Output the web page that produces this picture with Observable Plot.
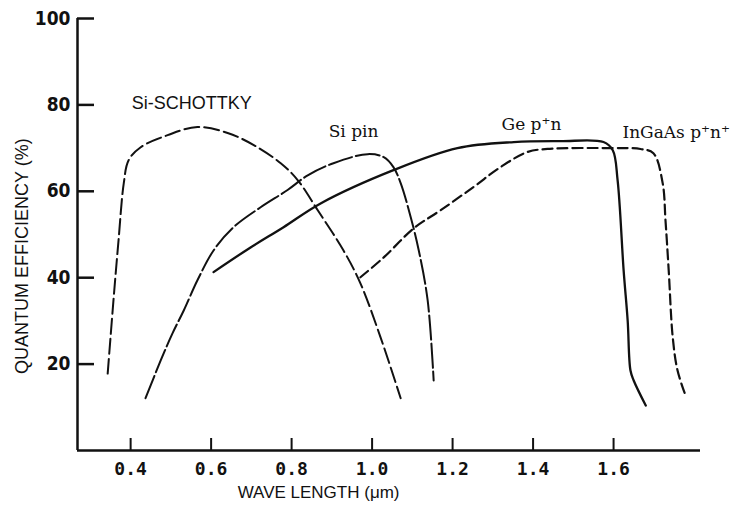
<!DOCTYPE html>
<html>
<head>
<meta charset="utf-8">
<script src="https://cdn.jsdelivr.net/npm/d3@7"></script>
<script src="https://cdn.jsdelivr.net/npm/@observablehq/plot@0.6"></script>
<style>
  html, body { margin: 0; padding: 0; background: #fff; }
  #chart { width: 745px; height: 506px; }
</style>
</head>
<body>
<div id="chart"></div>
<script>
// ---- data ----
const xTicks = [0.4, 0.6, 0.8, 1.0, 1.2, 1.4, 1.6];
const yTicks = [20, 40, 60, 80, 100];

const siSchottkyX = [0.343, 0.358, 0.370, 0.383, 0.395, 0.425, 0.492, 0.566, 0.641, 0.706, 0.773, 0.815, 0.865, 0.929, 0.971, 1.021, 1.071];
const siSchottkyY = [17.8, 35.5, 48.7, 61.9, 67.2, 70.2, 73.0, 74.9, 73.5, 70.7, 66.5, 62.6, 55.6, 46.3, 38.7, 26.2, 12.1];

const siPinX = [0.437, 0.475, 0.504, 0.532, 0.566, 0.606, 0.656, 0.723, 0.790, 0.840, 0.904, 0.989, 1.029, 1.053, 1.071, 1.096, 1.116, 1.138, 1.153];
const siPinY = [12.1, 20.9, 27.1, 32.4, 39.4, 46.3, 51.7, 56.3, 60.3, 63.7, 66.5, 68.6, 67.9, 65.6, 61.9, 54.0, 46.3, 34.8, 16.2];

const geX = [0.606, 0.698, 0.780, 0.872, 1.053, 1.212, 1.352, 1.468, 1.575, 1.598, 1.610, 1.625, 1.635, 1.642, 1.650, 1.680];
const geY = [41.3, 47.0, 51.7, 57.2, 64.9, 70.0, 71.4, 71.6, 71.4, 69.5, 62.6, 41.7, 30.1, 18.5, 16.2, 10.4];

const inGaAsX = [0.971, 1.029, 1.103, 1.170, 1.252, 1.319, 1.386, 1.436, 1.593, 1.667, 1.699, 1.722, 1.729, 1.737, 1.747, 1.759, 1.779];
const inGaAsY = [40.1, 44.7, 51.4, 55.6, 61.0, 65.6, 69.1, 69.8, 70.0, 69.8, 68.8, 61.9, 53.3, 41.7, 26.2, 18.5, 12.7];

const seriesNames = ["Si-SCHOTTKY", "Si pin", "Ge p⁺n", "InGaAs p⁺n⁺"];
const labelX = [0.552, 0.954, 1.396, 1.622];
const labelY = [80.4, 73.9, 75.5, 73.5];

const xTitle = "WAVE LENGTH (μm)";
const yTitle = "QUANTUM EFFICIENCY (%)";

// ---- build tables ----
function rows(name, xs, ys) { return xs.map((x, i) => ({series: name, x, y: ys[i]})); }
const schottky = rows(seriesNames[0], siSchottkyX, siSchottkyY);
const sipin = rows(seriesNames[1], siPinX, siPinY);
const ge = rows(seriesNames[2], geX, geY);
const ingaas = rows(seriesNames[3], inGaAsX, inGaAsY);
const labels = seriesNames.map((t, i) => ({text: t, x: labelX[i], y: labelY[i]}));

const xDomain = [0.268, 1.816];
const ink = "#111";

const chart = Plot.plot({
  width: 745,
  height: 506,
  marginLeft: 77,
  marginRight: 45,
  marginTop: 18,
  marginBottom: 56,
  style: {background: "#fff", color: ink},
  x: {domain: xDomain},
  y: {domain: [0, 100]},
  marks: [
    // inward ticks
    Plot.axisY({ticks: yTicks, tickSize: -17, tickFormat: () => "", label: null, strokeWidth: 2.5}),
    Plot.axisX({ticks: xTicks, tickSize: -12, tickFormat: () => "", label: null, strokeWidth: 2}),
    // tick labels
    Plot.axisY({ticks: yTicks, tickSize: 0, tickPadding: 7, label: null,
      fontSize: 19, fontWeight: "bold", fontFamily: "DejaVu Sans Condensed, DejaVu Sans, sans-serif"}),
    Plot.axisX({ticks: xTicks, tickSize: 0, tickPadding: 12, label: null,
      tickFormat: d3.format(".1f"),
      fontSize: 18, fontWeight: "bold", fontFamily: "DejaVu Sans Mono, monospace"}),
    // axis lines
    Plot.ruleX([xDomain[0]], {stroke: ink, strokeWidth: 2.5}),
    Plot.ruleY([0], {stroke: ink, strokeWidth: 2.5}),
    // curves
    Plot.line(schottky, {x: "x", y: "y", stroke: ink, strokeWidth: 2, strokeDasharray: "15,5", curve: "catmull-rom"}),
    Plot.line(sipin, {x: "x", y: "y", stroke: ink, strokeWidth: 2, strokeDasharray: "24,4", curve: "catmull-rom"}),
    Plot.line(ge, {x: "x", y: "y", stroke: ink, strokeWidth: 2.3, curve: "catmull-rom"}),
    Plot.line(ingaas, {x: "x", y: "y", stroke: ink, strokeWidth: 2.2, strokeDasharray: "10,5", curve: "catmull-rom"}),
    // curve labels
    Plot.text(labels.slice(0, 1), {x: "x", y: "y", text: "text", fontSize: 18, fontFamily: "Liberation Sans, Arial, sans-serif", fill: ink, style: "letter-spacing:0.5px"}),
    Plot.text(labels.slice(1, 3), {x: "x", y: "y", text: "text", fontSize: 17, fontFamily: "DejaVu Serif, serif", fill: ink}),
    Plot.text(labels.slice(3), {x: "x", y: "y", text: "text", textAnchor: "start", fontSize: 17, fontFamily: "DejaVu Serif, serif", fill: ink}),
    // axis titles
    Plot.text([yTitle], {x: [0.131], y: [45], rotate: -90, fontSize: 18, fontFamily: "Liberation Sans, Arial, sans-serif", fill: ink, style: "letter-spacing:2.5px"}),
    Plot.text([xTitle], {x: [0.867], frameAnchor: "bottom", dy: 47, fontSize: 17, fontFamily: "Liberation Sans, Arial, sans-serif", fill: ink, style: "letter-spacing:0.5px"})
  ]
});
document.getElementById("chart").appendChild(chart);
</script>
</body>
</html>
